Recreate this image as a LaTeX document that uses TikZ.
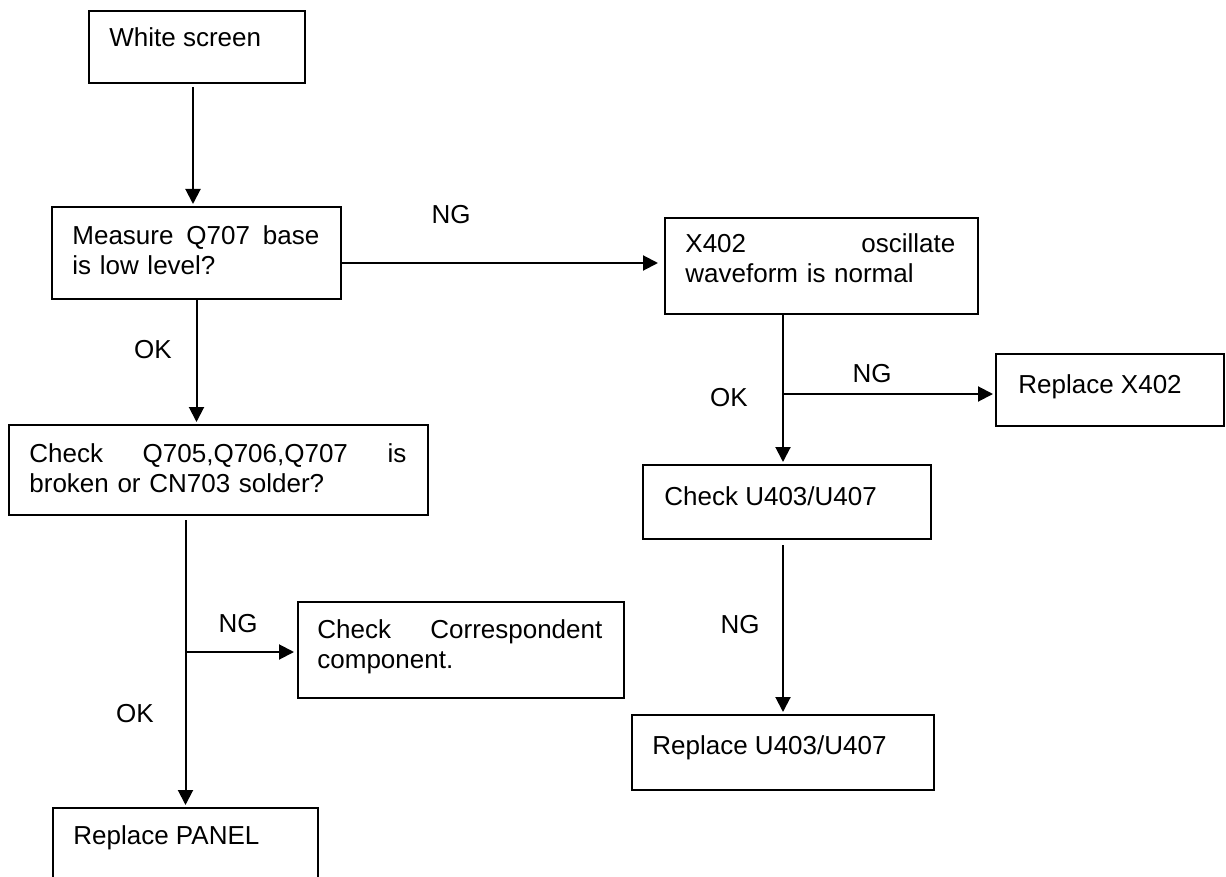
\documentclass[tikz,border=0pt]{standalone}
\usepackage{fontspec}
\setmainfont{Liberation Sans}
\usepackage{tikz}
\usetikzlibrary{arrows.meta}

\begin{document}
\begin{tikzpicture}[x=0.5pt, y=-0.5pt,
    box/.style={draw, line width=1pt, inner sep=0pt, anchor=north west},
    txt/.style={anchor=base west, inner sep=0pt, font=\fontsize{13}{15}\selectfont},
    para/.style={txt, align=left, text width=#1},
    lbl/.style={anchor=base, inner sep=0pt, font=\fontsize{13}{15}\selectfont},
    arr/.style={-{Triangle[length=7.5pt, width=7.5pt]}, line width=1pt, shorten >=1pt}]
  \useasboundingbox (0,0) rectangle (1226,877);
  \clip (0,0) rectangle (1226,877);

  % Boxes
  \node[box, minimum width=108pt, minimum height=36pt] (ws) at (88,10) {};
  \node[box, minimum width=144.5pt, minimum height=46pt] (ms) at (51,206) {};
  \node[box, minimum width=156.5pt, minimum height=48pt] (x4) at (664,217) {};
  \node[box, minimum width=114pt, minimum height=36pt] (rx) at (995,353) {};
  \node[box, minimum width=209.5pt, minimum height=45pt] (ck) at (8,424) {};
  \node[box, minimum width=144pt, minimum height=37pt] (cu) at (642,464) {};
  \node[box, minimum width=163pt, minimum height=48pt] (cc) at (297,601) {};
  \node[box, minimum width=151pt, minimum height=37.5pt] (ru) at (631,714) {};
  \node[box, minimum width=132.5pt, minimum height=40pt] (pn) at (52,807) {};

  % Box texts
  \node[txt] (wsT) at (109,47) {White screen};
  \node[para=123.5pt] (msT) at (72,245) {\makebox[\linewidth]{Measure\hfill Q707\hfill base}\\is low level?};
  \node[para=135pt] (x4T) at (685,253) {\makebox[\linewidth]{X402\hfill oscillate}\\waveform is normal};
  \node[txt] (rxT) at (1018,393) {Replace X402};
  \node[para=188.5pt] (ckT) at (29,462) {\makebox[\linewidth]{Check\hfill Q705,Q706,Q707\hfill is}\\broken or CN703 solder?};
  \node[txt] (cuT) at (664,505) {Check U403/U407};
  \node[para=142.5pt] (ccT) at (317,638) {\makebox[\linewidth]{Check\hfill Correspondent}\\component.};
  \node[txt] (ruT) at (652,754) {Replace U403/U407};
  \node[txt] (pnT) at (73,844) {Replace PANEL};

  % Connectors
  \coordinate (x4in) at ([yshift=1.5pt]x4.west);
  \coordinate (rxin) at ([yshift=-2pt]rx.west);
  \coordinate (ccin) at ([yshift=-1pt]cc.west);
  \draw[arr, shorten <=1.5pt] ([xshift=-2pt]ws.south) -- ([xshift=-2pt]ws.south |- ms.north);
  \draw[arr, shorten >=3pt] (ms.east |- x4in) -- (x4in);
  \draw[arr] (ms.south) -- (ms.south |- ck.north);
  \draw[arr, shorten <=2pt] (ck.south -| pn.north) -- (pn.north);
  \draw[arr, shorten >=1.5pt] (pn.north |- ccin) -- (ccin);
  \draw[arr] (x4.south -| ru.north) -- (cu.north -| ru.north);
  \draw[arr] (ru.north |- rxin) -- (rxin);
  \draw[arr, shorten <=2.5pt] (cu.south -| ru.north) -- (ru.north);

  % Branch labels
  \node[lbl] (ng1) at (451,224) {NG};
  \node[lbl] (ok1) at (153,358) {OK};
  \node[lbl] (ng2) at (872,382) {NG};
  \node[lbl] (ok2) at (729,406) {OK};
  \node[lbl] (ng3) at (238,632) {NG};
  \node[lbl] (ok3) at (135,722) {OK};
  \node[lbl] (ng4) at (740,633) {NG};
\end{tikzpicture}
\end{document}
